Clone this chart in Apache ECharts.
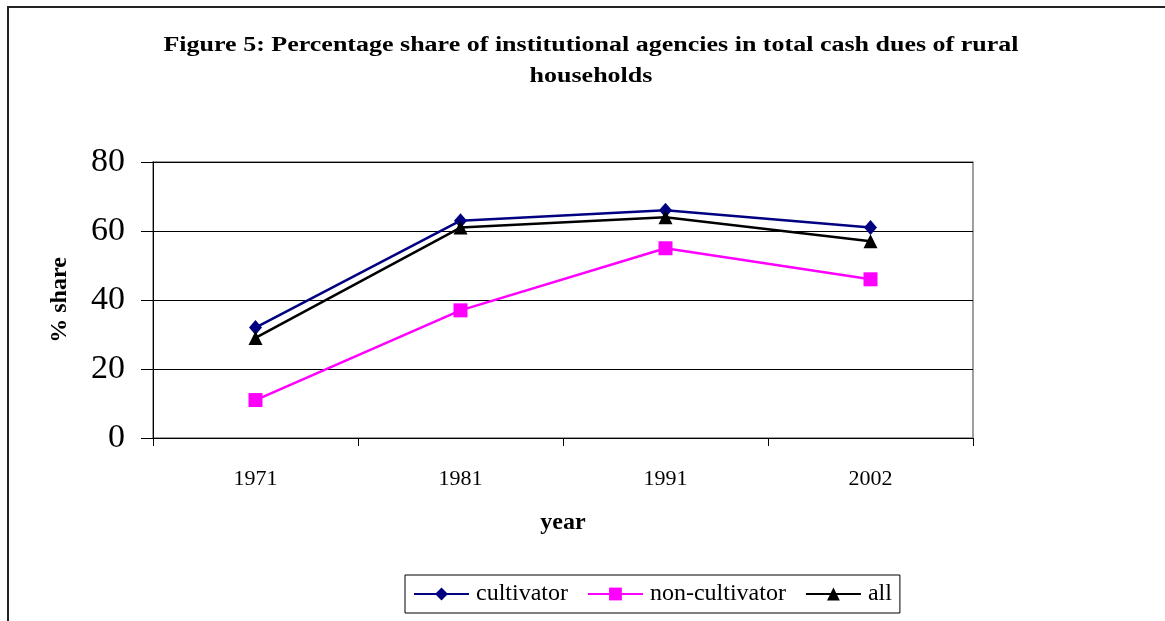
<!DOCTYPE html>
<html>
<head>
<meta charset="utf-8">
<script src="https://cdn.jsdelivr.net/npm/echarts@6/dist/echarts.min.js"></script>
<style>
  html, body { margin: 0; padding: 0; background: #fff; }
  #chart { width: 1165px; height: 621px; }
</style>
</head>
<body>
<div id="chart"></div>
<script>
// data
const years = ['1971', '1981', '1991', '2002']
const cultivator = [32, 63, 66, 61]
const nonCultivator = [11, 37, 55, 46]
const all = [29, 61, 64, 57]
const yTicks = [0, 20, 40, 60, 80]

const serif = '"Liberation Serif", "Times New Roman", serif'

let mycharts = echarts.init(document.getElementById('chart'))
mycharts.setOption({
  animation: false,
  backgroundColor: '#fff',
  textStyle: { fontFamily: serif, color: '#000' },
  graphic: [
    // outer frame (only left and top visible)
    {
      type: 'rect',
      shape: { x: 8, y: 7, width: 1200, height: 700 },
      style: { fill: 'none', stroke: '#222', lineWidth: 2 },
      silent: true
    },
    // title, the original type is a bit wider than Times
    {
      type: 'text',
      x: 591,
      y: 30,
      scaleX: 1.3,
      style: {
        text: 'Figure 5: Percentage share of institutional agencies in total cash dues of rural\nhouseholds',
        font: 'bold 20px ' + serif,
        fill: '#000',
        align: 'center',
        lineHeight: 31
      }
    }
  ],
  grid: {
    left: 153,
    right: 192,
    top: 162,
    bottom: 183,
    show: true,
    borderColor: '#808080',
    borderWidth: 1.5,
    backgroundColor: '#fff'
  },
  legend: {
    left: 405,
    top: 575,
    padding: [7, 8],
    itemWidth: 55,
    itemHeight: 16,
    itemGap: 19,
    borderColor: '#000',
    borderWidth: 1,
    backgroundColor: '#fff',
    textStyle: { fontFamily: serif, fontSize: 24, color: '#000', padding: [0, 0, 0, 2] },
    data: ['cultivator', 'non-cultivator', 'all']
  },
  xAxis: {
    type: 'category',
    data: years,
    boundaryGap: true,
    name: 'year',
    nameLocation: 'middle',
    nameGap: 73,
    nameTextStyle: { fontFamily: serif, fontWeight: 'bold', fontSize: 24, color: '#000' },
    axisLine: { show: true, lineStyle: { color: '#000', width: 1 } },
    axisTick: { show: true, length: 8, inside: false, lineStyle: { color: '#000' } },
    axisLabel: { fontFamily: serif, fontSize: 22, color: '#000', margin: 30 },
    splitLine: { show: false }
  },
  yAxis: {
    type: 'value',
    min: 0,
    max: 80,
    interval: 20,
    name: '% share',
    nameLocation: 'middle',
    nameGap: 81,
    nameRotate: 90,
    nameTextStyle: { fontFamily: serif, fontWeight: 'bold', fontSize: 24, color: '#000' },
    axisLine: { show: true, lineStyle: { color: '#000', width: 1 } },
    axisTick: { show: true, length: 12, lineStyle: { color: '#000' } },
    axisLabel: {
      fontFamily: serif,
      fontSize: 34,
      color: '#000',
      margin: 28,
      formatter: function (v) { return yTicks.indexOf(v) >= 0 ? String(v) : '' }
    },
    splitLine: { show: true, lineStyle: { color: '#000', width: 1 } }
  },
  series: [
    {
      name: 'cultivator',
      type: 'line',
      data: cultivator,
      symbol: 'diamond',
      symbolSize: [13, 15],
      lineStyle: { color: '#000080', width: 2.5 },
      itemStyle: { color: '#000080' },
      z: 3
    },
    {
      name: 'non-cultivator',
      type: 'line',
      data: nonCultivator,
      symbol: 'rect',
      symbolSize: 14,
      lineStyle: { color: '#FF00FF', width: 2.5 },
      itemStyle: { color: '#FF00FF' },
      z: 2
    },
    {
      name: 'all',
      type: 'line',
      data: all,
      symbol: 'triangle',
      symbolSize: 14,
      lineStyle: { color: '#000', width: 2.5 },
      itemStyle: { color: '#000' },
      z: 4
    }
  ]
})
</script>
</body>
</html>
